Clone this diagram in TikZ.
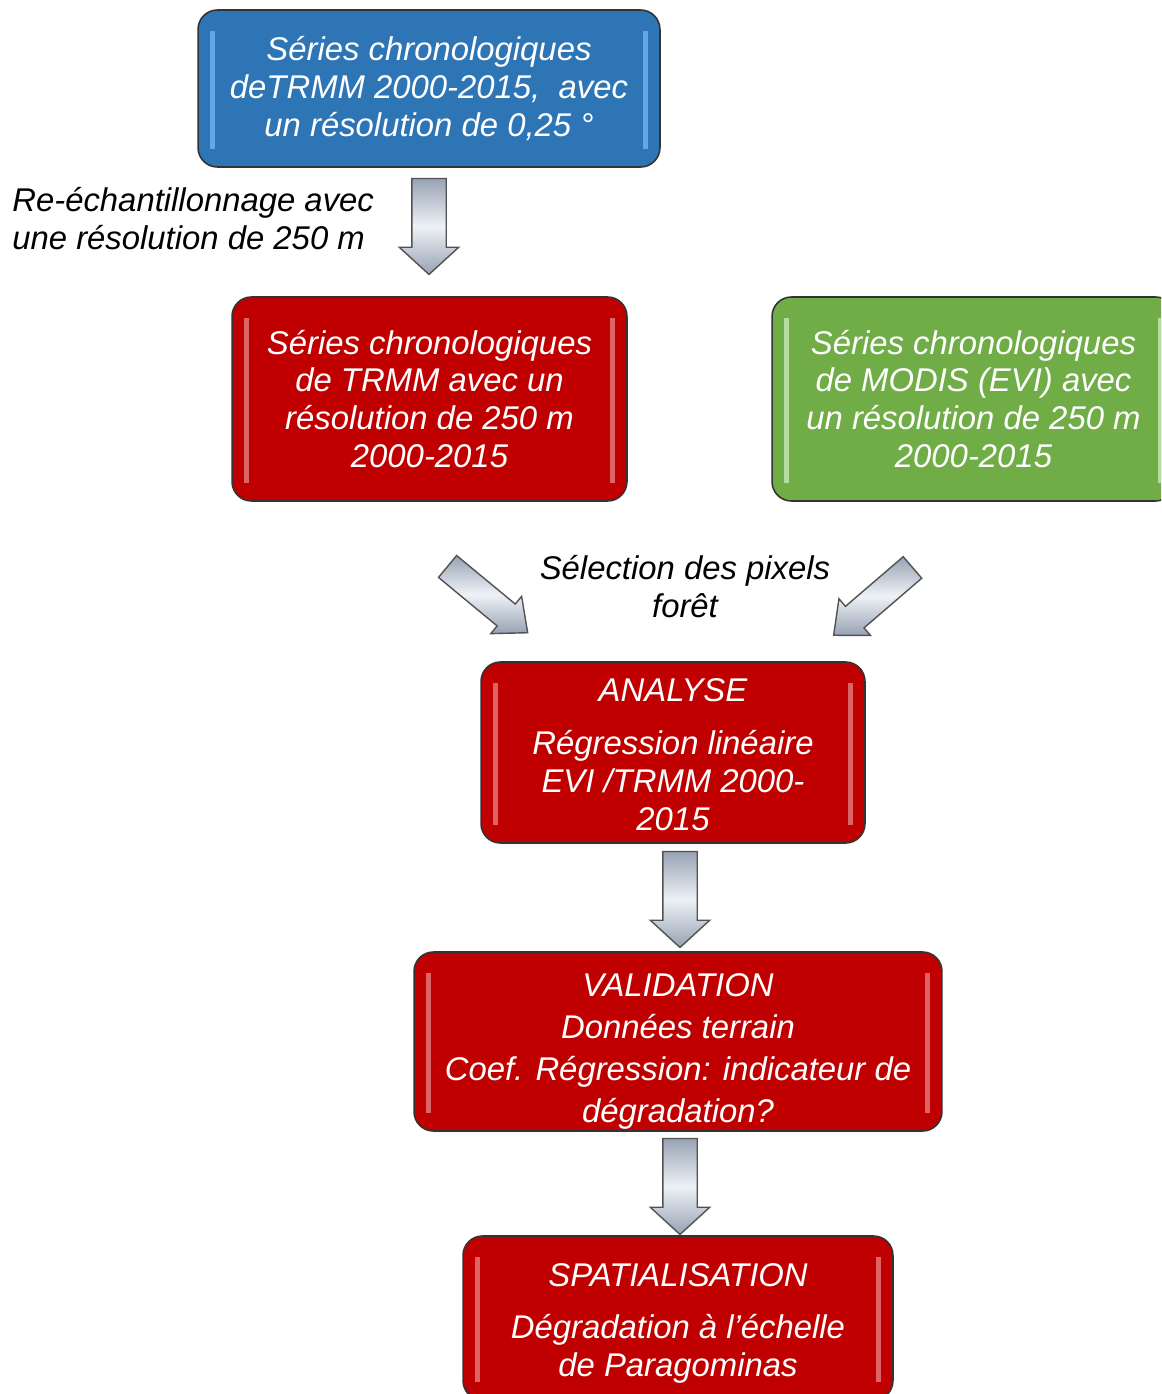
\documentclass[tikz,border=0pt]{standalone}
\usepackage{fontspec}
\setmainfont{Liberation Sans}
\usetikzlibrary{calc,positioning,shapes.arrows}
\definecolor{trmmblue}{HTML}{2E75B6}
\definecolor{stepred}{HTML}{C00000}
\definecolor{modisgreen}{HTML}{70AD47}
\definecolor{bluestrip}{HTML}{62A8E8}
\definecolor{redstrip}{HTML}{DC6464}
\definecolor{greenstrip}{HTML}{B5DDA0}
\definecolor{rim}{HTML}{333333}
\definecolor{arrowlight}{HTML}{EEF2F7}
\definecolor{arrowdark}{HTML}{98A2B3}
\tikzset{
  bevel/.style={path picture={
      \fill[#1, sharp corners] ([xshift=7pt,yshift=-12pt]path picture bounding box.north west)
        rectangle ([xshift=9.5pt,yshift=10pt]path picture bounding box.south west);
      \fill[#1, sharp corners] ([xshift=-9.5pt,yshift=-12pt]path picture bounding box.north east)
        rectangle ([xshift=-7pt,yshift=10pt]path picture bounding box.south east);}},
  stage/.style={draw=rim, line width=0.9pt, rounded corners=11pt, text=white,
    align=center, inner sep=0pt, font=\itshape\fontsize{18.7}{21.6}\selectfont},
  bluestage/.style={stage, fill=trmmblue, bevel=bluestrip},
  redstage/.style={stage, fill=stepred, bevel=redstrip},
  greenstage/.style={stage, fill=modisgreen, bevel=greenstrip},
  blockarrow/.style={single arrow, draw=rim!85, line width=0.8pt,
    top color=arrowdark, bottom color=arrowdark, middle color=arrowlight},
  downarrow/.style={blockarrow, rotate=-90, anchor=tail,
    inner sep=0.33cm, single arrow head extend=0.25cm,
    single arrow tip angle=95, minimum height=1.92cm},
  slantarrow/.style={blockarrow, rotate=#1, anchor=tail,
    inner sep=0.27cm, single arrow head extend=0.2cm,
    single arrow tip angle=82, minimum height=2.08cm},
  note/.style={font=\itshape\fontsize{18.7}{21.6}\selectfont, text=black, inner sep=0pt}
}

\begin{document}
\begin{tikzpicture}[x=0.02cm, y=-0.02cm]
  \clip (0,0) rectangle (1161,1394);
  \useasboundingbox (0,0) rectangle (1161,1394);

  % input series
  \node[bluestage, minimum width=9.24cm, minimum height=3.14cm] (trmm) at (429,88.5)
    {Séries chronologiques\\deTRMM 2000-2015,~ avec\\un résolution de 0,25 °};
  \node[redstage, minimum width=7.9cm, minimum height=4.08cm] (trmmfine) at (429.5,399)
    {Séries chronologiques\\de TRMM avec un\\résolution de 250 m\\2000-2015};
  \node[greenstage, minimum width=8.06cm, minimum height=4.08cm] (modis) at (973.5,399)
    {Séries chronologiques\\de MODIS (EVI) avec\\un résolution de 250 m\\2000-2015};

  % resampling
  \node[downarrow] (resample) at ($(trmm.south)+(0,10)$) {};
  \node[note, anchor=west, align=left] (resamplenote) at (12,219)
    {Re-échantillonnage avec\\une résolution de 250 m};

  % forest pixel selection
  \node[slantarrow=-39.6] (selleft) at (447,566) {};
  \node[slantarrow=-139.3] (selright) at (913,567) {};
  \node[note, align=center] (selnote) at (685,587) {Sélection des pixels\\forêt};

  % processing chain
  \node[redstage, minimum width=7.68cm, minimum height=3.62cm] (analyse) at (673,752.5)
    {\rule{0pt}{0.56cm}ANALYSE\\[0.3cm]Régression linéaire\\EVI /TRMM 2000-\\2015};
  \node[redstage, minimum width=10.56cm, minimum height=3.58cm] (validation) at (678,1041.5)
    {\rule{0pt}{0.86cm}VALIDATION\\[2.3pt]Données terrain\\[2.3pt]Coef. Régression: indicateur de\\[2.3pt]dégradation?};
  \node[redstage, minimum width=8.6cm, minimum height=3.28cm] (spatial) at (678,1318)
    {\rule{0pt}{0.66cm}SPATIALISATION\\[8pt]Dégradation à l’échelle\\de Paragominas};

  \node[downarrow] (tovalid) at ($(validation.north |- analyse.south)+(2,7)$) {};
  \node[downarrow] (tospatial) at ($(validation.south)+(2,6)$) {};
\end{tikzpicture}
\end{document}
